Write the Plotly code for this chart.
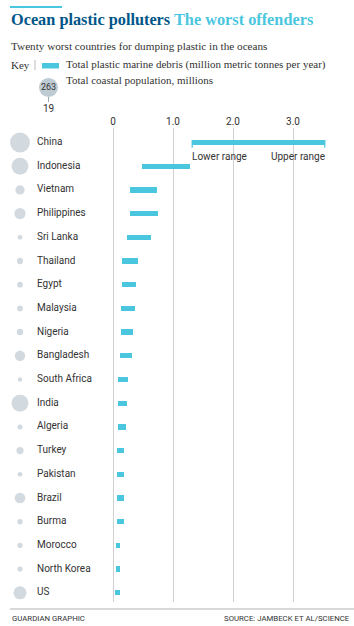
import plotly.graph_objects as go

countries = ["China", "Indonesia", "Vietnam", "Philippines", "Sri Lanka", "Thailand",
             "Egypt", "Malaysia", "Nigeria", "Bangladesh", "South Africa", "India",
             "Algeria", "Turkey", "Pakistan", "Brazil", "Burma", "Morocco",
             "North Korea", "US"]
debris_low = [1.32, 0.48, 0.28, 0.28, 0.24, 0.15, 0.15, 0.14, 0.13, 0.12,
              0.09, 0.09, 0.08, 0.07, 0.07, 0.07, 0.07, 0.05, 0.05, 0.04]
debris_high = [3.53, 1.29, 0.73, 0.75, 0.64, 0.41, 0.39, 0.37, 0.34, 0.31,
               0.25, 0.24, 0.21, 0.19, 0.19, 0.19, 0.18, 0.12, 0.12, 0.11]
coastal_pop = [262.9, 187.2, 55.9, 83.4, 14.6, 26.0, 21.8, 22.9, 27.5, 70.9,
               12.9, 187.5, 16.6, 34.0, 14.6, 74.7, 19.0, 17.3, 17.3, 112.9]
x_ticks = [0, 1, 2, 3]
x_tick_labels = ["0", "1.0", "2.0", "3.0"]

W, H = 354, 626
BAR = "#4bc6df"
DOT = "#bfcbd3"
DARK = "#005689"
TXT = "#333333"
SANS = "Roboto, Arial, sans-serif"
SERIF = "Liberation Serif, Georgia, serif"


def px(x):
    return x / W


def py(y):
    return 1 - y / H


fig = go.Figure()

# debris range bars
fig.add_trace(go.Bar(
    y=countries, x=[h - l for l, h in zip(debris_low, debris_high)], base=debris_low,
    orientation="h", marker=dict(color=BAR, line=dict(width=0)), width=0.22,
    hoverinfo="skip", showlegend=False))

# population circles
max_d = 20.0
fig.add_trace(go.Scatter(
    y=countries, x=[20] * len(countries), xaxis="x2", mode="markers",
    marker=dict(size=coastal_pop, sizemode="area", sizeref=2 * max(coastal_pop) / (max_d ** 2),
                color=DOT, line=dict(width=0)),
    hoverinfo="skip", showlegend=False))

# country labels
fig.add_trace(go.Scatter(
    y=countries, x=[37] * len(countries), xaxis="x2", mode="text",
    text=countries, textposition="middle right",
    textfont=dict(family=SANS, size=10, color=TXT),
    hoverinfo="skip", showlegend=False))

top_px, bot_px = 128, 602
row0, step = 142.5, 23.7

fig.update_layout(
    width=W, height=H, margin=dict(l=0, r=0, t=0, b=0),
    paper_bgcolor="white", plot_bgcolor="white",
    xaxis=dict(range=[-113 / 60, (W - 113) / 60], domain=[0, 1], side="top",
               tickvals=x_ticks, ticktext=x_tick_labels, showgrid=True,
               gridcolor="#d0d0d0", gridwidth=1, zeroline=False, showline=False,
               ticks="", tickfont=dict(family=SANS, size=10, color=TXT), fixedrange=True),
    xaxis2=dict(range=[0, W], domain=[0, 1], overlaying="x", visible=False, fixedrange=True),
    yaxis=dict(domain=[py(bot_px), py(top_px)],
               range=[(bot_px - row0) / step, -(row0 - top_px) / step],
               type="category", categoryorder="array", categoryarray=countries,
               visible=False, fixedrange=True),
    bargap=0,
    font=dict(family=SANS, color=TXT),
)

# China range caps
ci = countries.index("China")
for v in (debris_low[ci], debris_high[ci]):
    fig.add_shape(type="line", xref="x", yref="y", x0=v, x1=v,
                  y0=ci - 0.11, y1=ci + 0.22, line=dict(color=BAR, width=1.2))
fig.add_annotation(x=debris_low[ci], y=ci, xref="x", yref="y", text="Lower range",
                   showarrow=False, xanchor="left", yanchor="top", yshift=-6, xshift=-2,
                   font=dict(family=SANS, size=10, color=TXT))
fig.add_annotation(x=debris_high[ci], y=ci, xref="x", yref="y", text="Upper range",
                   showarrow=False, xanchor="right", yanchor="top", yshift=-6, xshift=2,
                   font=dict(family=SANS, size=10, color=TXT))

# header accent line
fig.add_shape(type="line", xref="paper", yref="paper", x0=px(10), x1=px(62),
              y0=py(7), y1=py(7), line=dict(color=BAR, width=2))
# title
fig.add_annotation(xref="paper", yref="paper", x=px(9), y=py(20), xanchor="left", yanchor="middle",
                   showarrow=False,
                   text=f"<b><span style='color:{DARK}'>Ocean plastic polluters</span> "
                        f"<span style='color:{BAR}'>The worst offenders</span></b>",
                   font=dict(family=SERIF, size=16.3))
# subtitle
fig.add_annotation(xref="paper", yref="paper", x=px(9), y=py(46), xanchor="left", yanchor="middle",
                   showarrow=False, text="Twenty worst countries for dumping plastic in the oceans",
                   font=dict(family=SERIF, size=11.2, color=TXT))
# key
fig.add_annotation(xref="paper", yref="paper", x=px(9), y=py(65), xanchor="left", yanchor="middle",
                   showarrow=False, text="Key", font=dict(family=SERIF, size=11, color=TXT))
fig.add_shape(type="line", xref="paper", yref="paper", x0=px(35), x1=px(35), y0=py(60), y1=py(70),
              line=dict(color="#bbbbbb", width=1))
fig.add_shape(type="rect", xref="paper", yref="paper", x0=px(42), x1=px(59), y0=py(63), y1=py(68.5),
              line=dict(width=0), fillcolor=BAR)
fig.add_annotation(xref="paper", yref="paper", x=px(64), y=py(65), xanchor="left", yanchor="middle",
                   showarrow=False,
                   text="Total plastic marine debris (million metric tonnes per year)",
                   font=dict(family=SERIF, size=11, color=TXT))
fig.add_shape(type="circle", xref="paper", yref="paper", x0=px(39), x1=px(58), y0=py(78), y1=py(97),
              line=dict(width=0), fillcolor=DOT)
fig.add_annotation(xref="paper", yref="paper", x=px(48.5), y=py(87.5), xanchor="center", yanchor="middle",
                   showarrow=False, text="263", font=dict(family=SANS, size=9, color=TXT))
fig.add_shape(type="line", xref="paper", yref="paper", x0=px(48.5), x1=px(48.5), y0=py(97), y1=py(102),
              line=dict(color="#9aa8b2", width=1))
fig.add_annotation(xref="paper", yref="paper", x=px(48.5), y=py(108), xanchor="center", yanchor="middle",
                   showarrow=False, text="19", font=dict(family=SANS, size=10, color=TXT))
fig.add_annotation(xref="paper", yref="paper", x=px(64), y=py(80), xanchor="left", yanchor="middle",
                   showarrow=False, text="Total coastal population, millions",
                   font=dict(family=SERIF, size=11, color=TXT))

# footer
fig.add_shape(type="line", xref="paper", yref="paper", x0=px(10), x1=1, y0=py(609), y1=py(609),
              line=dict(color="#cccccc", width=1.5))
fig.add_annotation(xref="paper", yref="paper", x=px(10), y=py(618), xanchor="left", yanchor="middle",
                   showarrow=False, text="GUARDIAN GRAPHIC", font=dict(family=SANS, size=7.8, color=TXT))
fig.add_annotation(xref="paper", yref="paper", x=px(352), y=py(618), xanchor="right", yanchor="middle",
                   showarrow=False, text="SOURCE: JAMBECK ET AL/SCIENCE",
                   font=dict(family=SANS, size=7.8, color=TXT))

fig.write_html("out.html", config={"displayModeBar": False})
